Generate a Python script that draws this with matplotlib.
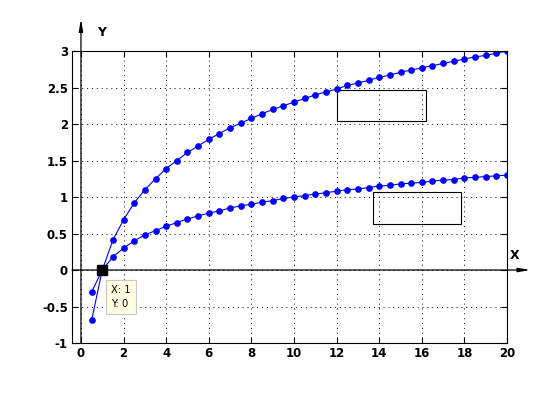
import matplotlib.pyplot as plt
from matplotlib.patches import Rectangle

#x values of the sampled points
x_vals = [0.5, 1.0, 1.5, 2.0, 2.5, 3.0, 3.5, 4.0, 4.5, 5.0,
          5.5, 6.0, 6.5, 7.0, 7.5, 8.0, 8.5, 9.0, 9.5, 10.0,
          10.5, 11.0, 11.5, 12.0, 12.5, 13.0, 13.5, 14.0, 14.5, 15.0,
          15.5, 16.0, 16.5, 17.0, 17.5, 18.0, 18.5, 19.0, 19.5, 20.0]

#upper curve
upper = [-0.69, 0.00, 0.41, 0.69, 0.92, 1.10, 1.25, 1.39, 1.50, 1.61,
         1.70, 1.79, 1.87, 1.95, 2.01, 2.08, 2.14, 2.20, 2.25, 2.30,
         2.35, 2.40, 2.44, 2.48, 2.53, 2.56, 2.60, 2.64, 2.67, 2.71,
         2.74, 2.77, 2.80, 2.83, 2.86, 2.89, 2.92, 2.94, 2.97, 3.00]

#lower curve
lower = [-0.30, 0.00, 0.18, 0.30, 0.40, 0.48, 0.54, 0.60, 0.65, 0.70,
         0.74, 0.78, 0.81, 0.85, 0.88, 0.90, 0.93, 0.95, 0.98, 1.00,
         1.02, 1.04, 1.06, 1.08, 1.10, 1.11, 1.13, 1.15, 1.16, 1.18,
         1.19, 1.20, 1.22, 1.23, 1.24, 1.26, 1.27, 1.28, 1.29, 1.30]

x_ticks = [0, 2, 4, 6, 8, 10, 12, 14, 16, 18, 20]
y_ticks = [-1, -0.5, 0, 0.5, 1, 1.5, 2, 2.5, 3]
y_ticklabels = ["-1", "-0.5", "0", "0.5", "1", "1.5", "2", "2.5", "3"]

#empty boxes drawn on the plot (x0, y0, width, height)
boxes = [(12.0, 2.04, 4.2, 0.43), (13.7, 0.63, 4.15, 0.44)]

fig = plt.figure(figsize=(5.6, 4.2), dpi=100)
ax = fig.add_axes([0.1286, 0.1833, 0.7768, 0.6952])

ax.plot(x_vals, upper, color=(0, 0, 1), lw=0.8, marker="o", ms=3.8, mec=(0, 0, 1), mfc=(0, 0, 1))
ax.plot(x_vals, lower, color=(0, 0, 1), lw=0.8, marker="o", ms=3.8, mec=(0, 0, 1), mfc=(0, 0, 1))

ax.set_xlim(-0.42, 20)
ax.set_ylim(-1, 3)
ax.set_xticks(x_ticks)
ax.set_yticks(y_ticks)
ax.set_yticklabels(y_ticklabels)
ax.grid(True, color="black", linestyle=(0, (1, 4)), linewidth=0.7)
ax.tick_params(direction="in", length=4, top=True, right=True, labelsize=8.5, pad=3)
for lab in ax.get_xticklabels() + ax.get_yticklabels():
    lab.set_fontweight("bold")
for s in ax.spines.values():
    s.set_linewidth(0.8)

#coordinate axes with arrows
ax.annotate("", xy=(0, 3.44), xytext=(0, -1), annotation_clip=False,
            arrowprops=dict(arrowstyle="-|>,head_length=0.7,head_width=0.12", color="black", lw=0.9, shrinkA=0, shrinkB=0))
ax.annotate("", xy=(21.1, 0), xytext=(-0.42, 0), annotation_clip=False,
            arrowprops=dict(arrowstyle="-|>,head_length=0.7,head_width=0.12", color="black", lw=0.9, shrinkA=0, shrinkB=0))
ax.text(0.95, 3.26, "Y", fontsize=9, fontweight="bold", ha="center", va="center", clip_on=False)
ax.text(20.35, 0.2, "X", fontsize=9, fontweight="bold", ha="center", va="center", clip_on=False)

for (bx, by, bw, bh) in boxes:
    ax.add_patch(Rectangle((bx, by), bw, bh, fill=False, edgecolor="black", lw=0.8))

#data tip
ax.plot([1], [0], marker="s", ms=6.5, color="black", zorder=5)
ax.text(1.42, -0.37, "X: 1\nY: 0", fontsize=7.2, va="center", ha="left", linespacing=1.6,
        bbox=dict(boxstyle="square,pad=0.5", facecolor="#ffffe1", edgecolor="#c8c8c8", lw=0.8), zorder=6)

plt.savefig("out.png", dpi=100)
